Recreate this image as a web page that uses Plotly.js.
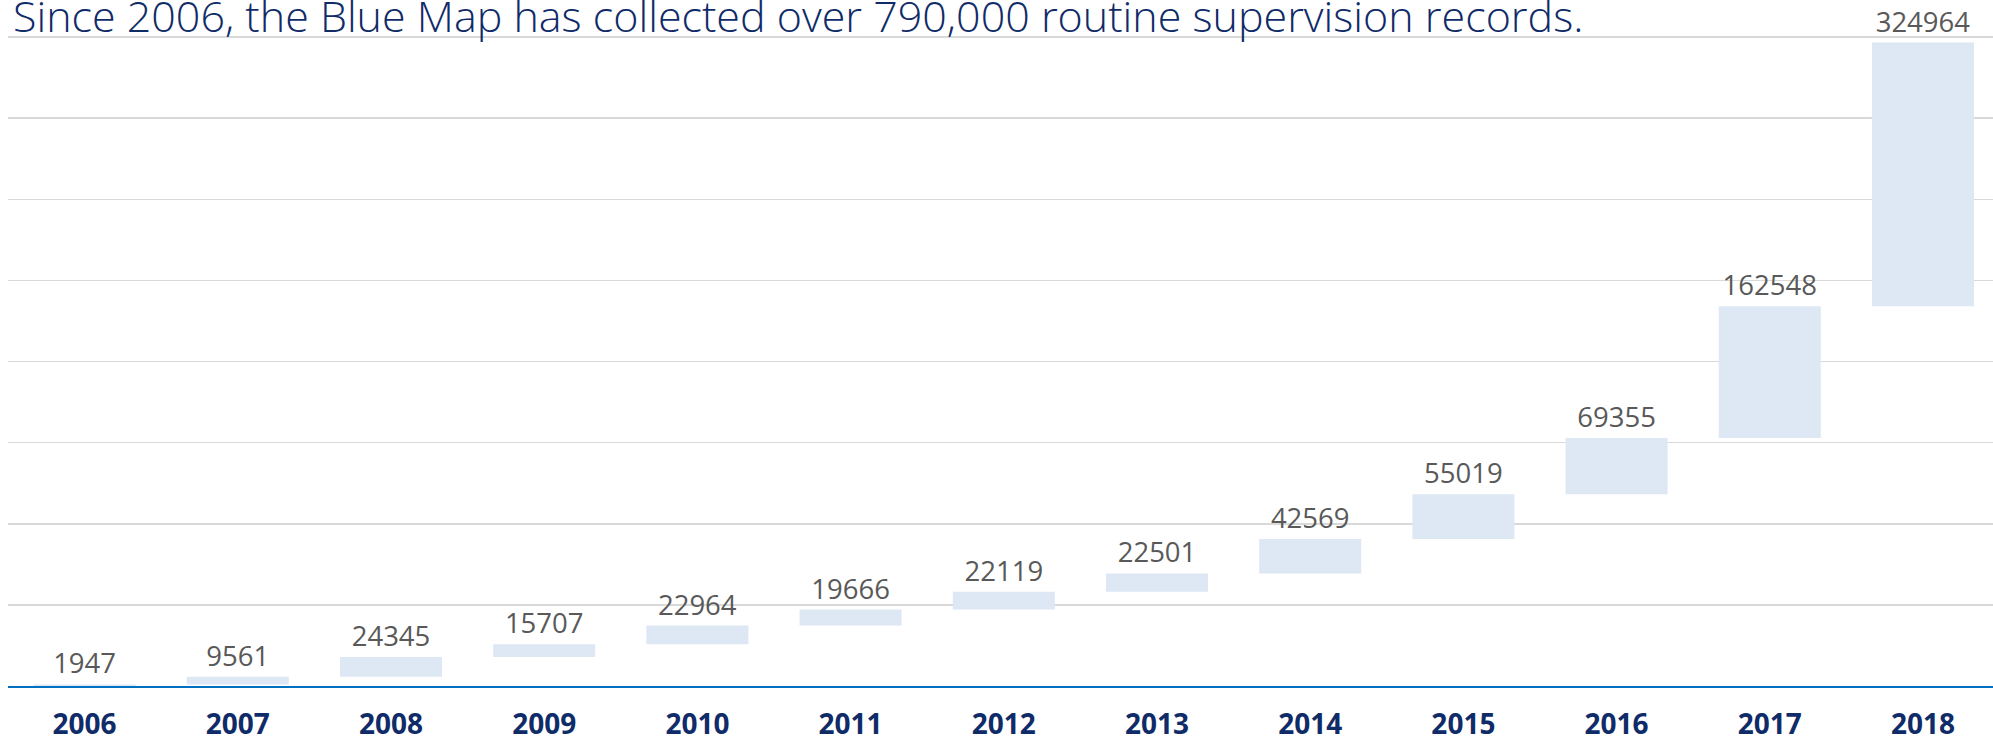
<!DOCTYPE html>
<html>
<head>
<meta charset="utf-8">
<script src="https://cdn.plot.ly/plotly-3.0.1.min.js"></script>
<style>html,body{margin:0;padding:0;background:#fff;}#chart{width:1993px;height:738px;}</style>
</head>
<body>
<div id="chart"></div>
<script>
const years = ["2006","2007","2008","2009","2010","2011","2012","2013","2014","2015","2016","2017","2018"];
const newRecords = [1947, 9561, 24345, 15707, 22964, 19666, 22119, 22501, 42569, 55019, 69355, 162548, 324964];
const titleText = "Since 2006, the Blue Map has collected over 790,000 routine supervision records.";

const trace = {
  type: "waterfall",
  x: years,
  y: newRecords,
  measure: years.map(() => "relative"),
  text: newRecords.map(v => String(v)),
  textinfo: "text",
  textposition: "outside",
  outsidetextfont: {family: "Open Sans", size: 27.5, color: "#595959"},
  cliponaxis: false,
  connector: {visible: false},
  increasing: {marker: {color: "#DDE8F4", line: {width: 0}}},
  decreasing: {marker: {color: "#DDE8F4", line: {width: 0}}},
  totals: {marker: {color: "#DDE8F4", line: {width: 0}}},
  hoverinfo: "x+y"
};

const layout = {
  width: 1993,
  height: 738,
  margin: {l: 8, r: 0, t: 29, b: 52},
  paper_bgcolor: "#ffffff",
  plot_bgcolor: "#ffffff",
  showlegend: false,
  waterfallgap: 0.334,
  annotations: [{
    text: titleText,
    font: {family: "Open Sans", size: 43, color: "#0F2B68", weight: 300},
    xref: "paper", x: 0, xanchor: "left", xshift: 3,
    yref: "paper", y: 1, yanchor: "middle", yshift: 14,
    showarrow: false
  }],
  xaxis: {
    type: "category",
    range: [-0.5, 12.457],
    showgrid: false,
    showline: true,
    linecolor: "#0070C0",
    linewidth: 2,
    ticks: "",
    ticklabelstandoff: 12,
    tickfont: {family: "Open Sans", size: 28, color: "#0F2B68", weight: "bold"},
    fixedrange: true
  },
  yaxis: {
    range: [0, 810000],
    dtick: 100000,
    tick0: 0,
    showticklabels: false,
    showgrid: true,
    gridcolor: "#D9D9D9",
    gridwidth: 1.5,
    zeroline: false,
    showline: false,
    ticks: "",
    fixedrange: true
  }
};

Plotly.newPlot("chart", [trace], layout, {displayModeBar: false, staticPlot: true});
</script>
</body>
</html>
